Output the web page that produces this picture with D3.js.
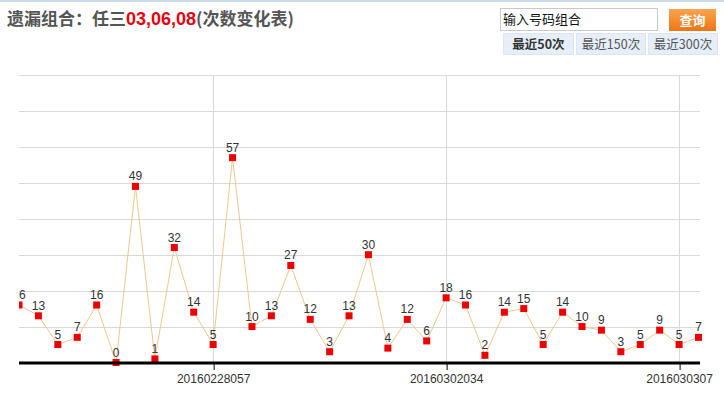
<!DOCTYPE html>
<html>
<head>
<meta charset="utf-8">
<script src="https://cdn.jsdelivr.net/npm/d3@7"></script>
<style>
  html, body { margin: 0; padding: 0; background: #fff; }
  svg { display: block; font-family: Arial, "Liberation Sans", sans-serif; }
</style>
</head>
<body>
<svg id="chart" width="724" height="401"></svg>
<script>
// ---- data ----
const values = [16, 13, 5, 7, 16, 0, 49, 1, 32, 14, 5, 57, 10, 13, 27, 12, 3, 13, 30, 4, 12, 6, 18, 16, 2, 14, 15, 5, 14, 10, 9, 3, 5, 9, 5, 7];
const tickIndices = [10, 22, 34];
const tickLabels = ["20160228057", "20160302034", "2016030307"];
const yTicks = [10, 20, 30, 40, 50, 60, 70, 80];
const titlePrefix = "遗漏组合：任三";
const titleNumbers = "03,06,08";
const titleSuffix = "(次数变化表)";
const tabLabels = ["最近50次", "最近150次", "最近300次"];

const svg = d3.select("#chart");

// top border
svg.append("rect").attr("x", 0).attr("y", 0).attr("width", 724).attr("height", 2).attr("fill", "#c8dcea");

// title
const title = svg.append("text").attr("x", 7).attr("y", 25)
  .attr("font-family", "'Noto Sans CJK SC', sans-serif").attr("font-size", 17).attr("font-weight", "bold");
title.append("tspan").attr("fill", "#555").text(titlePrefix);
title.append("tspan").attr("fill", "#e60012").attr("font-family", "Arial, 'Liberation Sans', sans-serif").attr("font-size", 18).text(titleNumbers);
title.append("tspan").attr("fill", "#555").text(titleSuffix);

// input box
svg.append("rect").attr("x", 500.5).attr("y", 8.5).attr("width", 157).attr("height", 22)
  .attr("fill", "#fff").attr("stroke", "#c9c9c9");
svg.append("text").attr("x", 503).attr("y", 24).attr("font-size", 13)
  .attr("font-family", "'Noto Sans CJK SC', sans-serif").attr("fill", "#111").text("输入号码组合");

// button
const defs = svg.append("defs");
const grad = defs.append("linearGradient").attr("id", "btn").attr("x1", 0).attr("y1", 0).attr("x2", 0).attr("y2", 1);
grad.append("stop").attr("offset", "0%").attr("stop-color", "#f9a54e");
grad.append("stop").attr("offset", "100%").attr("stop-color", "#ee7514");
svg.append("rect").attr("x", 669).attr("y", 9).attr("width", 47).attr("height", 22).attr("fill", "url(#btn)");
svg.append("text").attr("x", 692.5).attr("y", 25).attr("text-anchor", "middle").attr("font-size", 13)
  .attr("font-weight", "bold").attr("font-family", "'Noto Sans CJK SC', sans-serif").attr("fill", "#fff").text("查询");

// tabs
const tabX = [503, 576, 648];
const tabW = [70, 69, 69];
tabLabels.forEach((t, i) => {
  svg.append("rect").attr("x", tabX[i] + 0.5).attr("y", 33.5).attr("width", tabW[i]).attr("height", 21)
    .attr("fill", "#e6eff9").attr("stroke", "#dbe6f2");
  svg.append("text").attr("x", tabX[i] + tabW[i] / 2 + 0.5).attr("y", 49).attr("text-anchor", "middle")
    .attr("font-size", 12.5).attr("font-family", "'Noto Sans CJK SC', sans-serif")
    .attr("font-weight", i === 0 ? "bold" : "normal")
    .attr("fill", i === 0 ? "#333" : "#555").text(t);
});

// ---- scales ----
const x = d3.scaleLinear().domain([0, values.length - 1]).range([19, 698.5]);
const y = d3.scaleLinear().domain([0, 80]).range([362.5, 75]);
const plotLeft = 19, plotRight = 700;

// horizontal gridlines
svg.append("g").selectAll("line").data(yTicks).join("line")
  .attr("x1", plotLeft).attr("x2", plotRight)
  .attr("y1", d => Math.round(y(d)) + 0.5).attr("y2", d => Math.round(y(d)) + 0.5)
  .attr("stroke", "#d9d9d9").attr("stroke-width", 1);

// vertical gridlines at tick positions
svg.append("g").selectAll("line").data(tickIndices).join("line")
  .attr("x1", d => Math.round(x(d)) + 0.5).attr("x2", d => Math.round(x(d)) + 0.5)
  .attr("y1", y(80)).attr("y2", y(0))
  .attr("stroke", "#d9d9d9").attr("stroke-width", 1);

// clip
defs.append("clipPath").attr("id", "clip").append("rect")
  .attr("x", plotLeft).attr("y", 0).attr("width", 724 - plotLeft).attr("height", 401);

const g = svg.append("g").attr("clip-path", "url(#clip)");

// line
g.append("path").datum(values)
  .attr("d", d3.line().x((d, i) => x(i)).y(d => y(d)))
  .attr("fill", "none").attr("stroke", "#f0c78e").attr("stroke-width", 1);

// x axis
const xAxis = d3.axisBottom(x).tickValues(tickIndices)
  .tickFormat((d, i) => tickLabels[i]).tickSize(7).tickPadding(4);
const ax = svg.append("g").attr("transform", "translate(0,363)").call(xAxis);
ax.select(".domain").remove();
ax.selectAll(".tick line").attr("stroke", "#000").attr("transform", "translate(0.5,0)");
ax.selectAll(".tick text").attr("font-size", 12).attr("fill", "#333")
  .attr("font-family", "Arial, 'Liberation Sans', sans-serif");
svg.append("line").attr("x1", plotLeft).attr("x2", plotRight).attr("y1", 363).attr("y2", 363)
  .attr("stroke", "#000").attr("stroke-width", 3);

// markers
g.selectAll("rect.pt").data(values).join("rect").attr("class", "pt")
  .attr("x", (d, i) => x(i) - 3.5).attr("y", d => y(d) - 3.5)
  .attr("width", 7).attr("height", 7).attr("fill", "#ee0000");

// labels
g.selectAll("text.lbl").data(values).join("text").attr("class", "lbl")
  .attr("x", (d, i) => x(i)).attr("y", d => y(d) - 6)
  .attr("text-anchor", "middle").attr("font-size", 12).attr("fill", "#333")
  .text(d => d);
</script>
</body>
</html>
